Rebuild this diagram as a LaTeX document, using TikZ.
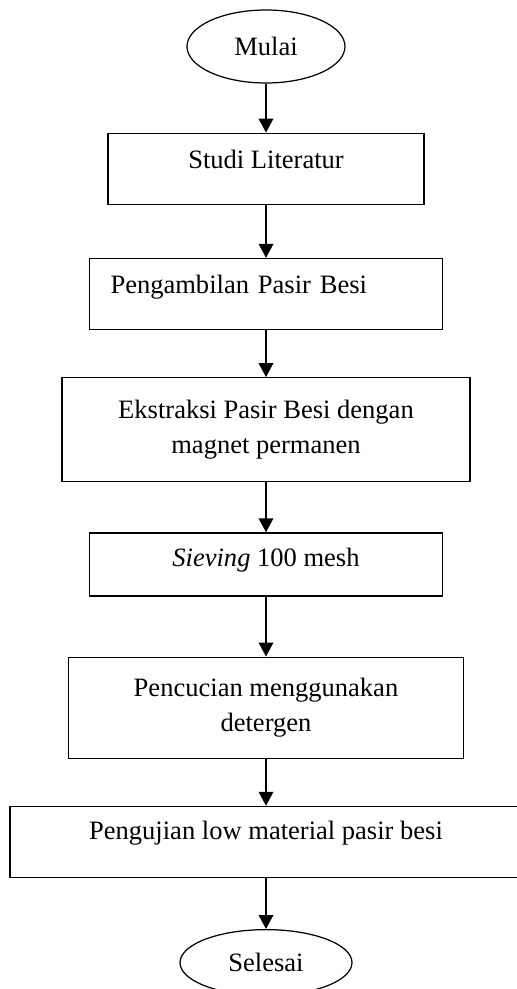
\documentclass[tikz,border=0pt]{standalone}
\usepackage{fontspec}
\setmainfont{Liberation Serif}
\usetikzlibrary{positioning,shapes.geometric,arrows.meta}

\begin{document}
\begin{tikzpicture}[->,>={Triangle[length=0.28cm,width=0.29cm]},line width=1.1pt,
                    font=\fontsize{15.1}{19.9}\selectfont,
                    mulaiselesai/.style={draw,ellipse,line width=0.7pt,inner sep=0pt},
                    langkah/.style={draw,rectangle,line width=0.7pt,inner sep=0pt,align=center},
                    satubaris/.style={text height=0.71cm,text depth=0.71cm}]

  \useasboundingbox (0,0) rectangle (10.34,-19.78);

  \node[mulaiselesai] (mulai) at (5.32,-0.93) [minimum width=3.16cm, minimum height=1.46cm] {Mulai};
  \node[langkah,satubaris] (studi) [below=0.98cm of mulai, minimum width=6.32cm] {Studi Literatur};
  \node[langkah,satubaris] (ambil) [below=1.06cm of studi, align=left, text width=6.22cm, inner xsep=0.42cm] {Pengambilan Pasir Besi};
  \node[langkah] (ekstraksi) [below=0.94cm of ambil, minimum width=8.16cm, minimum height=2.08cm] {Ekstraksi Pasir Besi dengan\\magnet permanen};
  \node[langkah] (sieving) [below=1.0cm of ekstraksi, minimum width=7.06cm, text height=0.68cm, text depth=0.58cm] {\textit{Sieving} 100 mesh};
  \node[langkah] (cuci) [below=1.2cm of sieving, minimum width=7.9cm, minimum height=2.02cm] {Pencucian menggunakan\\detergen};
  \node[langkah] (uji) [below=0.94cm of cuci, minimum width=10.24cm, text height=0.66cm, text depth=0.76cm] {Pengujian low material pasir besi};
  \node[mulaiselesai] (selesai) [below=1.02cm of uji, minimum width=3.44cm, minimum height=1.32cm] {Selesai};

  \path (mulai) edge (studi)
        (studi) edge (ambil)
        (ambil) edge (ekstraksi)
        (ekstraksi) edge (sieving)
        (sieving) edge (cuci)
        (cuci) edge (uji)
        (uji) edge (selesai)
        ;
\end{tikzpicture}
\end{document}
